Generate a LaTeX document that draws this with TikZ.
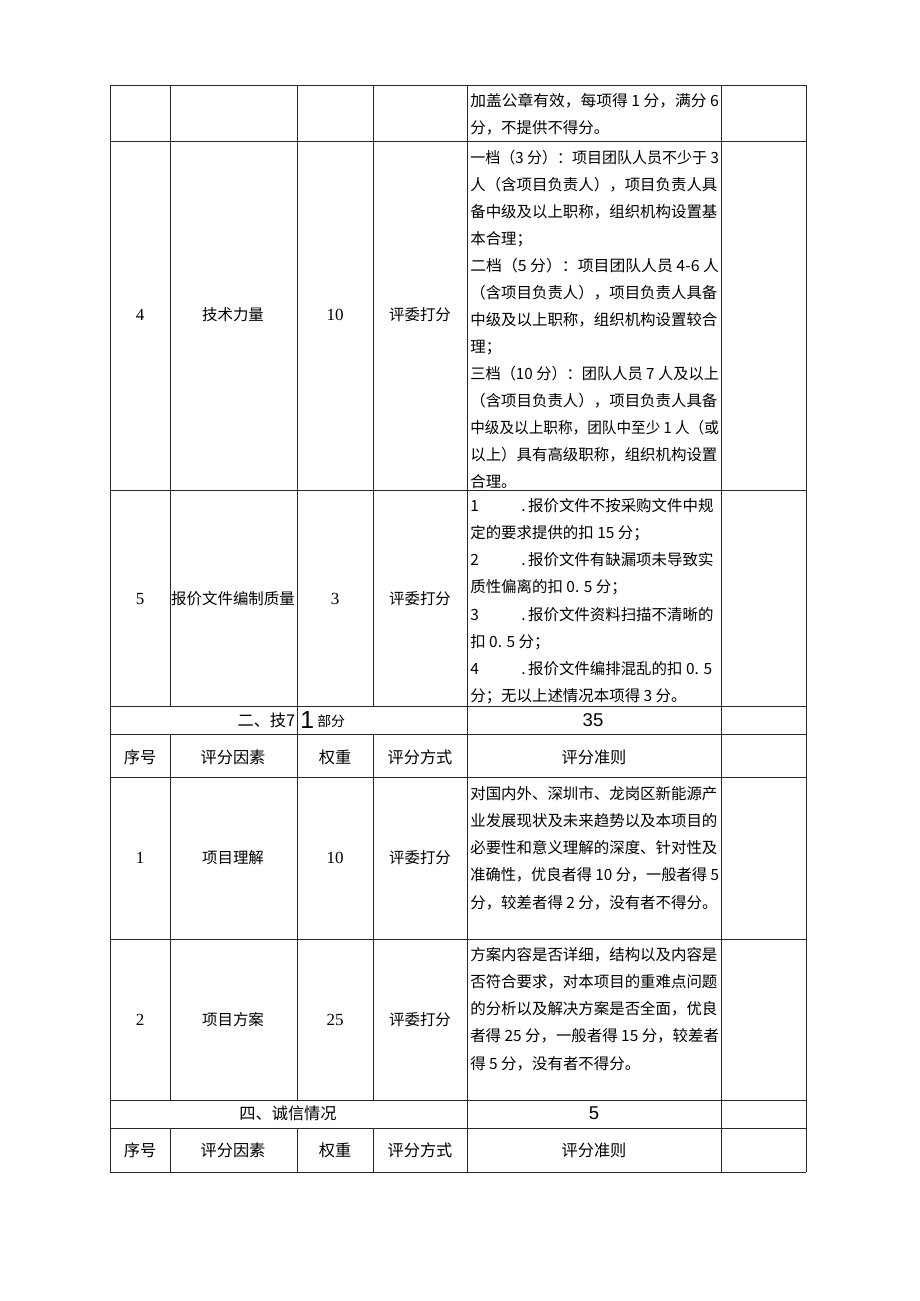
\documentclass[tikz,border=0pt]{standalone}
\usepackage{graphicx}
\usepackage{fontspec}
\newfontfamily\cjk{Noto Sans CJK SC}
\newfontfamily\numsans{Liberation Sans}
\newfontfamily\numserif{Liberation Serif}
\definecolor{rulegray}{RGB}{40, 40, 40}
\newcommand{\fullline}[1]{\resizebox{161pt}{\height}{#1}}
\tikzstyle{cell} = [inner sep=0pt, text=black, font=\cjk\fontsize{10}{12}\selectfont]
\tikzstyle{headcell} = [cell, font=\cjk\fontsize{10.5}{12}\selectfont]
\tikzstyle{digit} = [inner sep=0pt, text=black, font=\numserif\fontsize{11}{12}\selectfont]
\tikzstyle{ruletext} = [inner sep=0pt, text=black, anchor=north west, align=left, font=\cjk\fontsize{10}{17.5}\selectfont]
\tikzstyle{total} = [inner sep=0pt, text=black, font=\numsans\fontsize{12}{14}\selectfont]

\begin{document}
\begin{tikzpicture}[
    x=0.6475pt, y=-0.6475pt,
    grid/.style={draw=rulegray, line width=0.6pt}
]
  \useasboundingbox (0,0) rectangle (920,1301);

  \node[ruletext] (crit0) at (470,92.5) {\fullline{加盖公章有效，每项得 1 分，满分 6}\\分，不提供不得分。};

  \node[digit] (no4) at (140,315) {4};
  \node[cell] (factor4) at (233,315) {技术力量};
  \node[digit] (weight4) at (335,315) {10};
  \node[cell] (method4) at (420,315) {评委打分};
  \node[ruletext] (crit4) at (470,149.5) {\fullline{一档（3 分）：项目团队人员不少于 3}\\人（含项目负责人），项目负责人具\\备中级及以上职称，组织机构设置基\\本合理；\\\fullline{二档（5 分）：项目团队人员 4-6 人}\\（含项目负责人），项目负责人具备\\中级及以上职称，组织机构设置较合\\理；\\\fullline{三档（10 分）：团队人员 7 人及以上}\\（含项目负责人），项目负责人具备\\\fullline{中级及以上职称，团队中至少 1 人（或}\\以上）具有高级职称，组织机构设置\\合理。};

  \node[digit] (no5) at (140,599) {5};
  \node[cell] (factor5) at (233,599) {报价文件编制质量};
  \node[digit] (weight5) at (335,599) {3};
  \node[cell] (method5) at (420,599) {评委打分};
  \node[ruletext] (crit5) at (470,498.5) {\makebox[33pt][l]{1}.\,报价文件不按采购文件中规\\定的要求提供的扣 15 分；\\\makebox[33pt][l]{2}.\,报价文件有缺漏项未导致实\\质性偏离的扣 0. 5 分；\\\makebox[33pt][l]{3}.\,报价文件资料扫描不清晰的\\扣 0. 5 分；\\\makebox[33pt][l]{4}.\,报价文件编排混乱的扣 0. 5\\分；无以上述情况本项得 3 分。};

  \node[headcell, anchor=east] (part2) at (295.5,720) {二、技7};
  \node[total, anchor=west, font=\numsans\fontsize{16}{18}\selectfont] (part2one) at (300,720) {1};
  \node[cell, anchor=west, font=\cjk\fontsize{9}{10}\selectfont] (part2tail) at (317,721) {部分};
  \node[total] (score2) at (593,720) {35};

  \foreach \y/\tag in {757/a,1150/b} {
    \node[headcell] (hno\tag) at (140,\y) {序号};
    \node[headcell] (hfactor\tag) at (233,\y) {评分因素};
    \node[headcell] (hweight\tag) at (335,\y) {权重};
    \node[headcell] (hmethod\tag) at (420,\y) {评分方式};
    \node[headcell] (hrule\tag) at (594,\y) {评分准则};
  }

  \node[digit] (no1) at (140,858) {1};
  \node[cell] (factor1) at (233,858) {项目理解};
  \node[digit] (weight1) at (335,858) {10};
  \node[cell] (method1) at (420,858) {评委打分};
  \node[ruletext] (crit1) at (470,786.5) {对国内外、深圳市、龙岗区新能源产\\业发展现状及未来趋势以及本项目的\\必要性和意义理解的深度、针对性及\\\fullline{准确性，优良者得 10 分，一般者得 5}\\分，较差者得 2 分，没有者不得分。};

  \node[digit] (no2) at (140,1020) {2};
  \node[cell] (factor2) at (233,1020) {项目方案};
  \node[digit] (weight2) at (335,1020) {25};
  \node[cell] (method2) at (420,1020) {评委打分};
  \node[ruletext] (crit2) at (470,947.5) {方案内容是否详细，结构以及内容是\\否符合要求，对本项目的重难点问题\\的分析以及解决方案是否全面，优良\\\fullline{者得 25 分，一般者得 15 分，较差者}\\得 5 分，没有者不得分。};

  \node[headcell] (part4) at (288,1113) {四、诚信情况};
  \node[total] (score4) at (594,1113) {5};

  \foreach \y in {85,141,490,706,734,777,939,1100,1128,1172}
    \draw[grid] (110,\y) -- (806,\y);
  \foreach \x in {110,467,721,806}
    \draw[grid] (\x,85) -- (\x,1172);
  \foreach \x in {170,373}
    \foreach \a/\b in {85/706,734/1100,1128/1172}
      \draw[grid] (\x,\a) -- (\x,\b);
  \foreach \a/\b in {85/1100,1128/1172}
    \draw[grid] (297,\a) -- (297,\b);
\end{tikzpicture}
\end{document}
